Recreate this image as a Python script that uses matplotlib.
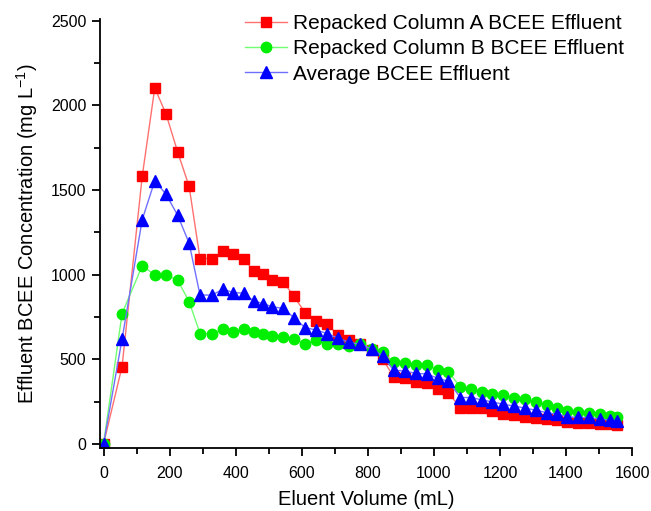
import matplotlib
matplotlib.use("Agg")
import matplotlib.pyplot as plt
from matplotlib.ticker import MultipleLocator

plt.rcParams['font.family'] = ['Liberation Sans', 'DejaVu Sans']

volume = [0, 56, 117, 155, 189, 224, 259, 292, 328, 362,
          392, 424, 454, 482, 511, 544, 576, 610, 644, 677,
          711, 744, 777, 812, 845, 878, 912, 945, 978, 1011,
          1044, 1080, 1113, 1145, 1177, 1210, 1243, 1276, 1309, 1341,
          1374, 1404, 1437, 1470, 1502, 1534, 1555]

column_a = [0, 457, 1580, 2102, 1949, 1726, 1521, 1095, 1095, 1139,
            1121, 1095, 1022, 1003, 969, 959, 871, 776, 725, 707,
            641, 613, 589, 554, 501, 397, 387, 363, 357, 324,
            300, 215, 215, 211, 195, 179, 170, 161, 155, 146,
            140, 130, 124, 122, 116, 116, 112]

column_b = [0, 770, 1052, 999, 999, 967, 841, 652, 652, 678,
            658, 678, 662, 650, 638, 632, 619, 593, 611, 589,
            591, 577, 589, 560, 544, 481, 475, 467, 465, 437,
            425, 337, 327, 307, 297, 288, 274, 264, 250, 230,
            215, 195, 189, 185, 175, 165, 160]

average = [0, 619, 1324, 1554, 1475, 1351, 1186, 879, 879, 914,
           894, 890, 845, 829, 810, 800, 746, 687, 672, 652,
           623, 599, 589, 560, 520, 435, 430, 417, 413, 389,
           369, 274, 274, 260, 248, 234, 224, 211, 199, 185,
           175, 161, 156, 156, 146, 142, 136]

labels = ["Repacked Column A BCEE Effluent",
          "Repacked Column B BCEE Effluent",
          "Average BCEE Effluent"]

fig = plt.figure(figsize=(6.51, 5.11), dpi=100)
ax = fig.add_axes([0.154, 0.123, 0.817, 0.84])

ax.plot(volume, column_a, color='#ff7070', lw=1.0, marker='s', ms=7,
        mfc='#ff0000', mec='#ff0000', label=labels[0])
ax.plot(volume, column_b, color='#70ff70', lw=1.0, marker='o', ms=7.5,
        mfc='#00ee00', mec='#00ee00', label=labels[1])
ax.plot(volume, average, color='#7070ff', lw=1.0, marker='^', ms=8,
        mfc='#0000ff', mec='#0000ff', label=labels[2])

ax.set_xlim(-10, 1600)
ax.set_ylim(-25, 2510)
ax.xaxis.set_major_locator(MultipleLocator(200))
ax.xaxis.set_minor_locator(MultipleLocator(100))
ax.yaxis.set_major_locator(MultipleLocator(500))
ax.yaxis.set_minor_locator(MultipleLocator(250))
ax.spines['top'].set_visible(False)
ax.spines['right'].set_visible(False)
for s in ['left', 'bottom']:
    ax.spines[s].set_linewidth(1.3)
ax.tick_params(which='major', direction='out', length=6, width=1.3, labelsize=11.5)
ax.tick_params(which='minor', direction='out', length=4, width=1.3)
ax.tick_params(axis='x', which='major', pad=7)
ax.tick_params(axis='y', which='major', pad=4)

ax.set_xlabel("Eluent Volume (mL)", fontsize=14.5, labelpad=6.5)
ax.set_ylabel("Effluent BCEE Concentration (mg L$^{\\mathregular{-1}}$)", fontsize=14.5, labelpad=8)

leg = ax.legend(loc='upper right', bbox_to_anchor=(1.008, 1.04), frameon=False,
                fontsize=15, handlelength=2.0, handletextpad=0.3,
                labelspacing=0.3, borderaxespad=0.2)

fig.savefig("out.png", dpi=100)
